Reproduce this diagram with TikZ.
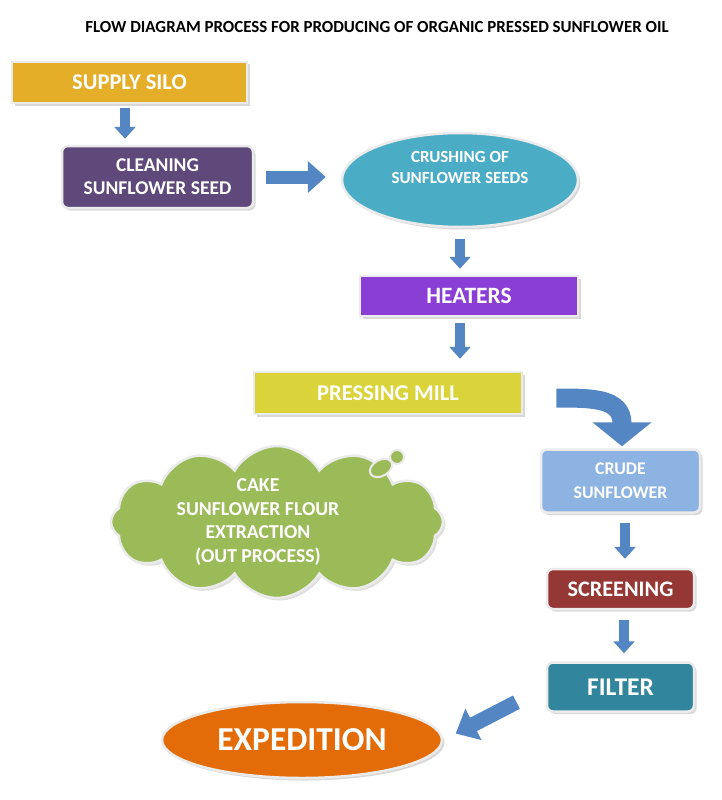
\documentclass[tikz,border=0pt]{standalone}
\usepackage{fontspec}
\setmainfont{Carlito}
\usepackage{tikz}
\usetikzlibrary{arrows.meta,positioning,shapes.geometric,shapes.symbols,shadows,calc}

\definecolor{silogold}{RGB}{228,174,40}
\definecolor{cleanpurple}{RGB}{95,73,122}
\definecolor{crushteal}{RGB}{75,172,198}
\definecolor{heatviolet}{RGB}{139,62,214}
\definecolor{millyellow}{RGB}{218,212,58}
\definecolor{crudeblue}{RGB}{141,179,226}
\definecolor{screenred}{RGB}{149,55,53}
\definecolor{filterteal}{RGB}{49,133,156}
\definecolor{expeorange}{RGB}{227,108,9}
\definecolor{cakegreen}{RGB}{155,187,89}
\definecolor{arrowblue}{RGB}{84,134,196}

\begin{document}
\begin{tikzpicture}[
        x=1pt, y=-1pt,
        font=\bfseries,
    % process steps: flat fill, pale rim, soft shadow to the lower right
        sq/.style={draw=white!92!black, line width=2.5pt, rectangle, text=white,
        align=center, drop shadow={shadow xshift=2.5pt, shadow yshift=-2.5pt, fill=black!30}},
        rnd/.style={sq, rounded corners=6pt},
        oval/.style={sq, ellipse},
    % block arrows
        arr/.style={draw=arrowblue, line width=10pt, -{Triangle[width=21pt,length=12pt]}},
        widearr/.style={draw=arrowblue, line width=13pt, -{Triangle[width=31pt,length=18pt]}},
        diagarr/.style={draw=arrowblue, line width=15pt, -{Triangle[width=34pt,length=20pt]}},
        bigarr/.style={draw=arrowblue, line width=19pt, -{Triangle[width=58pt,length=24pt]}}
    ]
\useasboundingbox (0,0) rectangle (722,800);

% --- title ---
        \node[font=\bfseries\fontsize{16.9}{20}\selectfont] (title) at (377,27)
        {FLOW DIAGRAM PROCESS FOR PRODUCING OF ORGANIC PRESSED SUNFLOWER OIL};

% --- upper steps ---
        \node[sq, fill=silogold, minimum width=235pt, minimum height=41pt,
        font=\bfseries\fontsize{22.5}{26}\selectfont] (silo) at (129.5,82.5) {SUPPLY SILO};
        \node[rnd, fill=cleanpurple, minimum width=191pt, minimum height=62pt,
        font=\bfseries\fontsize{19.5}{23}\selectfont] (clean) at (157.5,177) {CLEANING\\SUNFLOWER SEED};
        \node[oval, fill=crushteal, minimum width=236pt, minimum height=94pt,
        label={[text=white, align=center, yshift=13pt, font=\bfseries\fontsize{17}{21}\selectfont]center:{CRUSHING OF\\SUNFLOWER SEEDS}}] (crush) at (460,180) {};
        \node[sq, fill=heatviolet, minimum width=218pt, minimum height=40pt,
        font=\bfseries\fontsize{23.4}{26}\selectfont] (heat) at (469,296) {HEATERS};
        \node[sq, fill=millyellow, minimum width=268pt, minimum height=42pt,
        font=\bfseries\fontsize{22.5}{26}\selectfont] (mill) at (388,393) {PRESSING MILL};

% --- right column ---
        \node[rnd, fill=crudeblue, minimum width=159pt, minimum height=63pt,
        font=\bfseries\fontsize{17.8}{24}\selectfont] (crude) at (620.5,481) {CRUDE\\SUNFLOWER};
        \node[rnd, fill=screenred, minimum width=147pt, minimum height=40pt,
        font=\bfseries\fontsize{22.2}{26}\selectfont, below=54pt of crude] (screen) {SCREENING};
        \node[rnd, fill=filterteal, minimum width=147pt, minimum height=49pt,
        font=\bfseries\fontsize{25.5}{28}\selectfont, below=51pt of screen] (filter) {FILTER};
        \node[oval, fill=expeorange, minimum width=280pt, minimum height=76pt,
        font=\bfseries\fontsize{33.5}{36}\selectfont] (exped) at (302,740) {EXPEDITION};

% --- by-product cloud ---
        \node[cloud, cloud puffs=12, cloud puff arc=120, cloud ignores aspect,
        fill=cakegreen, draw=white!92!black, line width=2.5pt,
        drop shadow={shadow xshift=2.5pt, shadow yshift=-2.5pt, fill=black!25},
        minimum width=332pt, minimum height=152pt,
        label={[text=white, align=center, xshift=-19pt, font=\bfseries\fontsize{19.7}{23.5}\selectfont]center:{CAKE\\SUNFLOWER FLOUR\\EXTRACTION\\(OUT PROCESS)}}] (cake) at (277,522) {};
        \draw[fill=cakegreen, draw=white!92!black, line width=2pt, rotate around={30:(381,468)}]
        (381,468) ellipse [x radius=12, y radius=8];
        \draw[fill=cakegreen, draw=white!92!black, line width=2pt] (397,457) circle (7);

% --- flow arrows ---
        \draw[arr, shorten <=4pt, shorten >=6pt] ([xshift=-4.5pt]silo.south) -- ([xshift=-4.5pt]silo.south |- clean.north);
        \draw[widearr, shorten <=12pt, shorten >=15pt] (clean.east) -- (clean.east -| crush.west);
        \draw[arr, shorten <=11pt, shorten >=6pt] (crush.south) -- (crush.south |- heat.north);
        \draw[arr, shorten <=6pt, shorten >=12pt] ([xshift=-9pt]heat.south) -- ([xshift=-9pt]heat.south |- mill.north);
        \draw[bigarr, shorten <=33pt, shorten >=2pt] ([yshift=-5pt]mill.east) .. controls +(70,0) and +(0,-50) .. ([xshift=1.5pt]crude.north);
        \draw[arr, shorten <=9pt, shorten >=9pt] ([xshift=4.5pt]crude.south) -- ([xshift=4.5pt]crude.south |- screen.north);
        \draw[arr, shorten <=10pt, shorten >=8pt] ([xshift=3.5pt]screen.south) -- ([xshift=3.5pt]screen.south |- filter.north);
        \draw[diagarr, shorten <=33pt, shorten >=14pt] (filter.west) -- (exped.east);
\end{tikzpicture}
\end{document}
